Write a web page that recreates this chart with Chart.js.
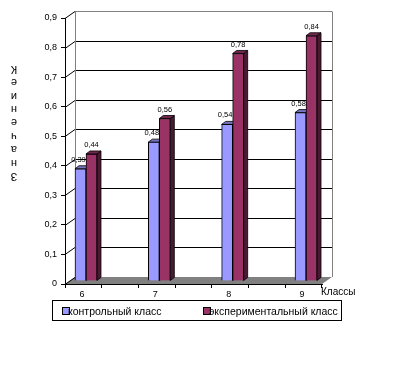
<!DOCTYPE html>
<html>
<head>
<meta charset="utf-8">
<script src="https://cdn.jsdelivr.net/npm/chart.js@4.4.1/dist/chart.umd.min.js"></script>
<style>
  html, body { margin: 0; padding: 0; background: #fff; }
  canvas { display: block; }
</style>
</head>
<body>
<canvas id="graphique-classes" width="394" height="378"></canvas>
<script>
/** Les données */
const classes = [6, 7, 8, 9];
const controle = [0.39, 0.48, 0.54, 0.58];
const experimental = [0.44, 0.56, 0.78, 0.84];
const seriesLabels = ['контрольный класс', 'экспериментальный класс'];
const yTicks = [0, 0.1, 0.2, 0.3, 0.4, 0.5, 0.6, 0.7, 0.8, 0.9];
const titreY = 'Значение К';
const titreX = 'Классы';

const police = 'Liberation Sans, Arial, sans-serif';
const bleu = '#9999FF';
const violet = '#993366';
const gris = '#808080';

/** décalage du mur du fond et des barres (effet 3D façon Excel) */
const mur = { dx: 10, dy: -7 };
const barre = { dx: 4, dy: -3 };
const faces = {
  [bleu]: { cote: '#4C4C80', dessus: '#7373BF' },
  [violet]: { cote: '#4C1933', dessus: '#732650' }
};

const virgule = v => (v === 0 ? '0' : v.toFixed(2).replace(/0$/, '').replace('.', ','));

/** mur du fond, sol gris et lignes de la grille */
const fond = {
  id: 'fond',
  beforeDraw(chart) {
    const { ctx, chartArea: a, scales: { y } } = chart;
    ctx.save();
    ctx.fillStyle = gris;
    ctx.beginPath();
    ctx.moveTo(a.left, a.bottom);
    ctx.lineTo(a.left + mur.dx, a.bottom + mur.dy);
    ctx.lineTo(a.right + mur.dx, a.bottom + mur.dy);
    ctx.lineTo(a.right, a.bottom);
    ctx.closePath();
    ctx.fill();

    ctx.lineWidth = 1;
    yTicks.forEach((v, i) => {
      const py = Math.round(y.getPixelForValue(v)) + 0.5;
      if (v > 0) {
        ctx.strokeStyle = i === yTicks.length - 1 ? gris : '#000';
        ctx.beginPath();
        ctx.moveTo(a.left + mur.dx, py + mur.dy);
        ctx.lineTo(a.right + mur.dx, py + mur.dy);
        ctx.stroke();
      }
      ctx.strokeStyle = '#000';
      ctx.beginPath();
      ctx.moveTo(a.left, py);
      ctx.lineTo(a.left + mur.dx, py + mur.dy);
      ctx.stroke();
    });

    const haut = Math.round(y.getPixelForValue(yTicks[yTicks.length - 1])) + 0.5 + mur.dy;
    ctx.strokeStyle = gris;
    ctx.beginPath();
    ctx.moveTo(a.left + mur.dx + 0.5, haut);
    ctx.lineTo(a.left + mur.dx + 0.5, a.bottom + mur.dy);
    ctx.moveTo(a.right + mur.dx + 0.5, haut);
    ctx.lineTo(a.right + mur.dx + 0.5, a.bottom + mur.dy);
    ctx.stroke();
    ctx.restore();
  }
};

/** côtés et dessus des barres, dessinés avant les faces avant */
const relief = {
  id: 'relief',
  beforeDatasetsDraw(chart) {
    const { ctx } = chart;
    ctx.save();
    ctx.lineWidth = 0.8;
    ctx.strokeStyle = '#000';
    chart.data.datasets.forEach((ds, i) => {
      const c = faces[ds.backgroundColor];
      chart.getDatasetMeta(i).data.forEach(el => {
        const { x, y, base, width } = el.getProps(['x', 'y', 'base', 'width'], true);
        const g = x - width / 2;
        const d = x + width / 2;
        ctx.fillStyle = c.cote;
        ctx.beginPath();
        ctx.moveTo(d, y);
        ctx.lineTo(d + barre.dx, y + barre.dy);
        ctx.lineTo(d + barre.dx, base + barre.dy);
        ctx.lineTo(d, base);
        ctx.closePath();
        ctx.fill();
        ctx.stroke();
        ctx.fillStyle = c.dessus;
        ctx.beginPath();
        ctx.moveTo(g, y);
        ctx.lineTo(g + barre.dx, y + barre.dy);
        ctx.lineTo(d + barre.dx, y + barre.dy);
        ctx.lineTo(d, y);
        ctx.closePath();
        ctx.fill();
        ctx.stroke();
      });
    });
    ctx.restore();
  },
  afterDatasetsDraw(chart) {
    const { ctx } = chart;
    ctx.save();
    ctx.fillStyle = '#000';
    ctx.font = '7.5px ' + police;
    ctx.textAlign = 'center';
    ctx.textBaseline = 'middle';
    chart.data.datasets.forEach((ds, i) => {
      chart.getDatasetMeta(i).data.forEach((el, j) => {
        ctx.fillText(virgule(ds.data[j].y), el.x + (i === 0 ? -2 : 0), el.y - 9);
      });
    });
    ctx.restore();
  }
};

/** légende encadrée, titre vertical et titre des classes */
const habillage = {
  id: 'habillage',
  afterDraw(chart) {
    const { ctx } = chart;
    ctx.save();
    ctx.fillStyle = '#000';
    ctx.font = '10px ' + police;
    ctx.textBaseline = 'middle';
    ctx.textAlign = 'left';
    ctx.fillText(titreX, 321, 292);

    /** titre vertical : lettres retournées et empilées, de bas en haut */
    ctx.textAlign = 'center';
    ctx.font = '11px ' + police;
    Array.from(titreY).filter(c => c !== ' ').forEach((c, i) => {
      ctx.save();
      ctx.translate(14, 176 - i * 13.4);
      ctx.rotate(Math.PI);
      ctx.fillText(c, 0, 0);
      ctx.restore();
    });

    ctx.font = '10.5px ' + police;
    ctx.lineWidth = 1;
    ctx.strokeStyle = '#000';
    ctx.strokeRect(52.5, 300.5, 289, 20);
    const positions = [62, 203];
    ctx.textAlign = 'left';
    chart.data.datasets.forEach((ds, i) => {
      const px = positions[i];
      ctx.fillStyle = ds.backgroundColor;
      ctx.fillRect(px + 0.5, 307.5, 7, 7);
      ctx.strokeRect(px + 0.5, 307.5, 7, 7);
      ctx.fillStyle = '#000';
      ctx.fillText(ds.label, px + 6, 312);
    });
    ctx.restore();
  }
};

const donnees = (valeurs) => classes.map((c, i) => ({ x: c, y: valeurs[i] }));

const xMin = 5.714;
const xMax = 9.218;

const dessineLeGraphique = function dessineLeGraphique() {
  const data = {
    datasets: [
      { label: seriesLabels[0], data: donnees(controle), backgroundColor: bleu,
        borderColor: '#000', borderWidth: 1, barThickness: 11, base: 0.012 },
      { label: seriesLabels[1], data: donnees(experimental), backgroundColor: violet,
        borderColor: '#000', borderWidth: 1, barThickness: 11, base: 0.012 }
    ]
  };

  const options = {
    responsive: false,
    devicePixelRatio: 1,
    animation: false,
    layout: { padding: { left: 0, right: 72, top: 18, bottom: 0 } },
    plugins: { legend: { display: false }, tooltip: { enabled: false } },
    scales: {
      x: {
        type: 'linear',
        offset: false,
        bounds: 'data',
        min: xMin,
        max: xMax,
        afterBuildTicks: axe => {
          const marques = [];
          for (let v = xMin; v <= xMax + 0.001; v += 0.5) { marques.push({ value: v }); }
          axe.ticks = marques.concat(classes.map(c => ({ value: c }))).sort((p, q) => p.value - q.value);
        },
        afterFit: axe => { axe.height = 94; },
        ticks: {
          autoSkip: false,
          maxRotation: 0,
          padding: 1,
          labelOffset: -4,
          color: '#000',
          font: { family: police, size: 9 },
          callback: v => (classes.includes(v) ? String(v) : '')
        },
        grid: {
          offset: false,
          drawOnChartArea: false,
          tickLength: 4,
          tickColor: c => (c.tick && classes.includes(c.tick.value) ? 'rgba(0,0,0,0)' : '#000')
        },
        border: { color: '#000', width: 1 }
      },
      y: {
        min: 0,
        max: 0.9,
        afterBuildTicks: axe => { axe.ticks = yTicks.map(v => ({ value: v })); },
        afterFit: axe => { axe.width = 65; },
        ticks: {
          padding: 4,
          color: '#000',
          font: { family: police, size: 9 },
          callback: v => (v === 0 ? '0' : v.toFixed(1).replace('.', ','))
        },
        grid: { drawOnChartArea: false, tickLength: 4, tickColor: '#000' },
        border: { color: '#000', width: 1 }
      }
    }
  };

  const ctx = document.getElementById('graphique-classes').getContext('2d');
  return new Chart(ctx, { type: 'bar', data, options, plugins: [fond, relief, habillage] });
};

dessineLeGraphique();
</script>
</body>
</html>
